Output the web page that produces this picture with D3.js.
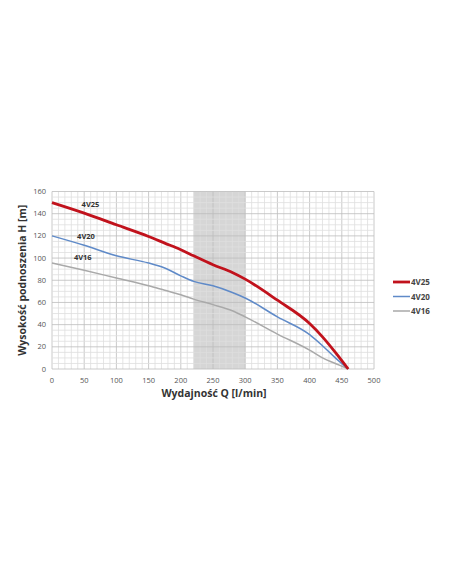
<!DOCTYPE html>
<html>
<head>
<meta charset="utf-8">
<script src="https://cdn.jsdelivr.net/npm/d3@7"></script>
<style>
  body { margin: 0; background: #fff; }
  svg { display: block; font-family: 'Open Sans', sans-serif; }
</style>
</head>
<body>
<svg id="chart" width="452" height="584"></svg>
<script>
'use strict'

var flow = [0, 50, 100, 150, 175, 200, 220, 250, 280, 300, 350, 400, 420, 440, 460]
var h4v25 = [150, 140.5, 130, 119.5, 113.5, 107.5, 102, 94, 87, 81, 62, 41, 29, 15, 0]
var h4v20 = [120, 111.5, 102, 95.5, 91, 84, 79, 75, 69, 64, 47, 31, 21, 10, 0]
var h4v16 = [95.5, 89, 82, 75, 71, 67, 63, 58, 52.5, 47, 31.5, 17, 10, 5, 0]
var seriesNames = ['4V25', '4V20', '4V16']
var xTicks = [0, 50, 100, 150, 200, 250, 300, 350, 400, 450, 500]
var yTicks = [0, 20, 40, 60, 80, 100, 120, 140, 160]
var band = [220, 300]

var svg = d3.select('#chart')
var x = d3.scaleLinear().domain([0, 500]).range([52, 374])
var y = d3.scaleLinear().domain([0, 160]).range([369, 191.5])

var colors = ['#c1121c', '#5f8ac8', '#a9a9a9']
var widths = [2.8, 1.5, 1.5]
var series = [h4v25, h4v20, h4v16]

// shaded operating range
svg.append('rect')
  .attr('x', x(band[0]))
  .attr('y', y(160))
  .attr('width', x(band[1]) - x(band[0]))
  .attr('height', y(0) - y(160))
  .attr('fill', '#d6d6d6')

// minor grid
var grid = svg.append('g')
grid.selectAll('line.vx')
  .data(d3.range(0, 501, 10))
  .enter().append('line')
    .attr('x1', (d) => x(d)).attr('x2', (d) => x(d))
    .attr('y1', y(0)).attr('y2', y(160))
    .attr('stroke', (d) => d % 50 === 0 ? '#bdbdbd' : '#dedede')
    .attr('stroke-width', 0.8)
grid.selectAll('line.hy')
  .data(d3.range(0, 161, 5))
  .enter().append('line')
    .attr('y1', (d) => y(d)).attr('y2', (d) => y(d))
    .attr('x1', x(0)).attr('x2', x(500))
    .attr('stroke', (d) => d % 20 === 0 ? '#bdbdbd' : '#dedede')
    .attr('stroke-width', 0.8)

// axes labels
svg.append('g')
  .selectAll('text')
  .data(xTicks)
  .enter().append('text')
    .attr('x', (d) => x(d))
    .attr('y', y(0) + 14)
    .attr('text-anchor', 'middle')
    .attr('font-size', 7.5)
    .attr('fill', '#555')
    .text((d) => d)

svg.append('g')
  .selectAll('text')
  .data(yTicks)
  .enter().append('text')
    .attr('x', x(0) - 6)
    .attr('y', (d) => y(d) + 2.5)
    .attr('text-anchor', 'end')
    .attr('font-size', 7.5)
    .attr('fill', '#555')
    .text((d) => d)

svg.append('text')
  .attr('x', 214)
  .attr('y', 397)
  .attr('text-anchor', 'middle')
  .attr('font-size', 10.5)
  .attr('font-weight', 'bold')
  .attr('fill', '#333')
  .text('Wydajność Q [l/min]')

svg.append('text')
  .attr('transform', 'translate(26,' + ((y(0) + y(160)) / 2) + ') rotate(-90)')
  .attr('text-anchor', 'middle')
  .attr('font-size', 10.5)
  .attr('font-weight', 'bold')
  .attr('fill', '#333')
  .text('Wysokość podnoszenia H [m]')

// curves
var line = d3.line()
  .x((d, i) => x(flow[i]))
  .y((d) => y(d))
  .curve(d3.curveMonotoneX)

svg.append('g')
  .selectAll('path')
  .data(series.slice().reverse())
  .enter().append('path')
    .attr('d', (d) => line(d))
    .attr('fill', 'none')
    .attr('stroke', (d, i) => colors[2 - i])
    .attr('stroke-width', (d, i) => widths[2 - i])

// in-plot labels
var labelPos = [[46, 146], [39, 117], [34, 98]]
svg.append('g')
  .selectAll('text')
  .data(seriesNames)
  .enter().append('text')
    .attr('x', (d, i) => x(labelPos[i][0]))
    .attr('y', (d, i) => y(labelPos[i][1]))
    .attr('font-size', 7.5)
    .attr('font-weight', 'bold')
    .attr('fill', '#333')
    .text((d) => d)

// legend
var legend = svg.append('g')
  .selectAll('g')
  .data(seriesNames)
  .enter().append('g')
    .attr('transform', (d, i) => 'translate(393,' + (282 + i * 14.5) + ')')
legend.append('line')
  .attr('x1', 0).attr('x2', 17)
  .attr('stroke', (d, i) => colors[i])
  .attr('stroke-width', (d, i) => widths[i])
legend.append('text')
  .attr('x', 18)
  .attr('y', 3)
  .attr('font-size', 8)
  .attr('font-weight', 'bold')
  .attr('fill', '#444')
  .text((d) => d)
</script>
</body>
</html>
